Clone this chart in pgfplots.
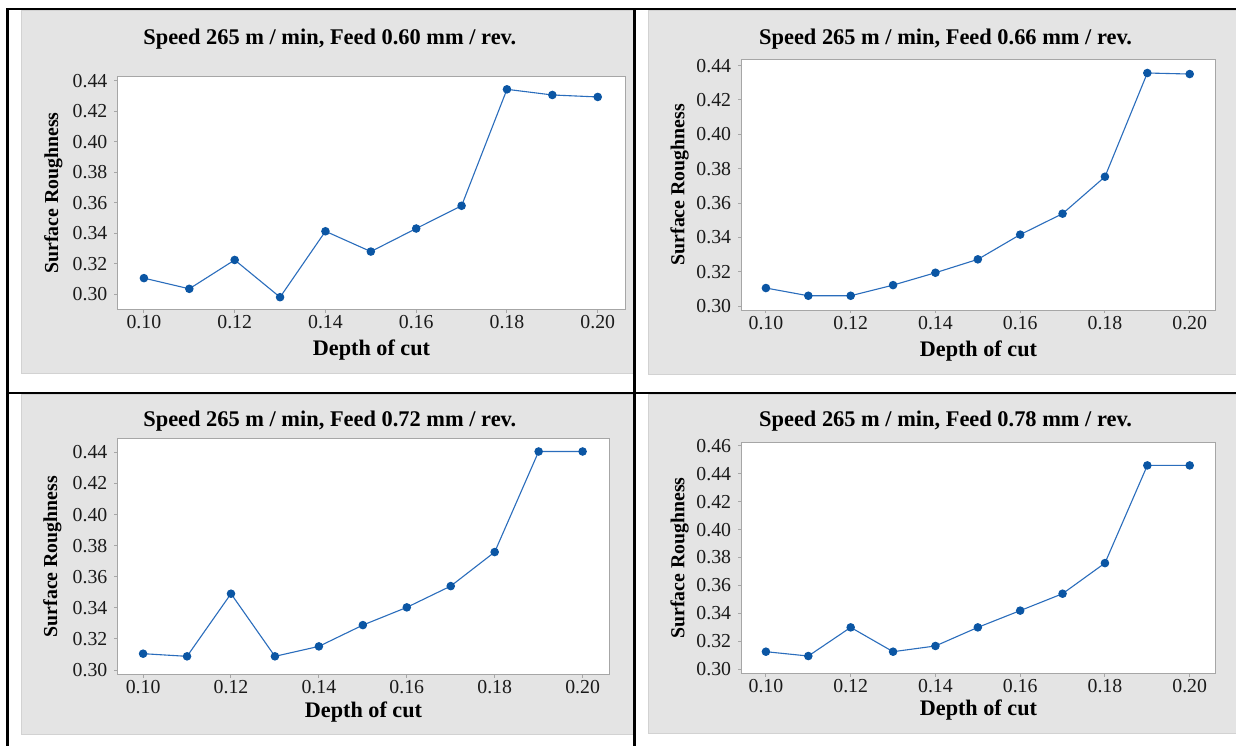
\documentclass[border=0pt]{standalone}
\usepackage{fontspec}
\setmainfont{Liberation Serif}
\usepackage{pgfplots}
\pgfplotsset{compat=1.18}
\definecolor{bg}{HTML}{E4E4E4}
\definecolor{bgedge}{HTML}{D2D2D2}
\definecolor{frame}{HTML}{A6A6A6}
\definecolor{ln}{HTML}{2A6DBC}
\definecolor{mk}{HTML}{0B56A4}
\definecolor{tickc}{HTML}{1A1A1A}
\pgfplotsset{
  panel/.style={
    scale only axis, anchor=south west,
    xmin=0.0942, xmax=0.2061,
    xtick={0.10,0.12,0.14,0.16,0.18,0.20},
    xticklabels={0.10,0.12,0.14,0.16,0.18,0.20},
    tick pos=left, tick align=outside,
    major tick length=1.6pt,
    axis line style={draw=frame, line width=0.5pt},
    tick style={draw=frame, line width=0.5pt},
    axis background/.style={fill=white},
    ticklabel style={font=\fontsize{9.9pt}{11pt}\selectfont, text=tickc},
    xticklabel style={anchor=base, yshift=-7.9pt},
    /pgf/number format/assume math mode=true,
    xlabel={Depth of cut}, ylabel={Surface Roughness},
    xlabel style={font=\fontsize{11.1pt}{13pt}\selectfont\bfseries, anchor=base},
    ylabel style={font=\fontsize{9.9pt}{12pt}\selectfont\bfseries, anchor=base},
  },
  ser/.style={color=ln, line width=0.55pt, mark=*, mark size=1.85pt,
    mark options={draw=mk, fill=mk}},
}
\begin{document}
\begin{tikzpicture}
\useasboundingbox (0,0) rectangle (618pt,-373pt);
% gray panels
\filldraw[fill=bg, draw=bgedge, line width=0.5pt] (10.5pt,-5pt) rectangle (316.5pt,-186.6pt);
\filldraw[fill=bg, draw=bgedge, line width=0.5pt] (324.25pt,-5pt) rectangle (619pt,-187.1pt);
\filldraw[fill=bg, draw=bgedge, line width=0.5pt] (10.5pt,-197pt) rectangle (316.5pt,-367pt);
\filldraw[fill=bg, draw=bgedge, line width=0.5pt] (324.25pt,-197pt) rectangle (619pt,-366.5pt);
% table lines
\draw[black, line width=1.25pt] (3.1pt,-4.6pt) -- (618pt,-4.6pt);
\draw[black, line width=1.25pt] (3.75pt,-4pt) -- (3.75pt,-373pt);
\draw[black, line width=1.25pt] (317.35pt,-4pt) -- (317.35pt,-373pt);
\draw[black, line width=1.25pt] (3.75pt,-196.5pt) -- (618pt,-196.5pt);
% titles
\node[anchor=base, font=\fontsize{11.2pt}{13pt}\selectfont\bfseries] at (164.9pt,-22pt) {Speed 265 m / min, Feed 0.60 mm / rev.};
\node[anchor=base, font=\fontsize{11.2pt}{13pt}\selectfont\bfseries] at (472.8pt,-22pt) {Speed 265 m / min, Feed 0.66 mm / rev.};
\node[anchor=base, font=\fontsize{11.2pt}{13pt}\selectfont\bfseries] at (164.9pt,-213.3pt) {Speed 265 m / min, Feed 0.72 mm / rev.};
\node[anchor=base, font=\fontsize{11.2pt}{13pt}\selectfont\bfseries] at (472.8pt,-213.3pt) {Speed 265 m / min, Feed 0.78 mm / rev.};

% Panel 1
\begin{axis}[panel, at={(58.8pt,-154.7pt)}, width=253.9pt, height=116.3pt,
  ymin=0.2902, ymax=0.4426,
  ytick={0.30,0.32,0.34,0.36,0.38,0.40,0.42,0.44},
  yticklabels={0.30,0.32,0.34,0.36,0.38,0.40,0.42,0.44},
  xlabel style={at={(axis description cs:0.5,-0.1983)}},
  ylabel style={at={(axis description cs:-0.1171,0.5)}}]
\addplot[ser] coordinates {(0.10,0.3107) (0.11,0.3037) (0.12,0.3226) (0.13,0.2982) (0.14,0.3414) (0.15,0.3281) (0.16,0.3432) (0.17,0.3581) (0.18,0.4344) (0.19,0.4307) (0.20,0.4294)};
\end{axis}

% Panel 2
\begin{axis}[panel, at={(370.67pt,-155pt)}, width=237.1pt, height=125.2pt,
  ymin=0.2977, ymax=0.4435,
  ytick={0.30,0.32,0.34,0.36,0.38,0.40,0.42,0.44},
  yticklabels={0.30,0.32,0.34,0.36,0.38,0.40,0.42,0.44},
  xlabel style={at={(axis description cs:0.5,-0.184)}},
  ylabel style={at={(axis description cs:-0.1203,0.5)}}]
\addplot[ser] coordinates {(0.10,0.3105) (0.11,0.3060) (0.12,0.3060) (0.13,0.3122) (0.14,0.3194) (0.15,0.3272) (0.16,0.3416) (0.17,0.3538) (0.18,0.3753) (0.19,0.4357) (0.20,0.4351)};
\end{axis}

% Panel 3
\begin{axis}[panel, at={(58.8pt,-337.17pt)}, width=245.9pt, height=117.8pt,
  ymin=0.2972, ymax=0.4488,
  ytick={0.30,0.32,0.34,0.36,0.38,0.40,0.42,0.44},
  yticklabels={0.30,0.32,0.34,0.36,0.38,0.40,0.42,0.44},
  xlabel style={at={(axis description cs:0.5,-0.1825)}},
  ylabel style={at={(axis description cs:-0.1228,0.5)}}]
\addplot[ser] coordinates {(0.10,0.3105) (0.11,0.3088) (0.12,0.3491) (0.13,0.3088) (0.14,0.3152) (0.15,0.3289) (0.16,0.3403) (0.17,0.3540) (0.18,0.3759) (0.19,0.4406) (0.20,0.4406)};
\end{axis}

% Panel 4
\begin{axis}[panel, at={(370.67pt,-336.67pt)}, width=237.1pt, height=115.5pt,
  ymin=0.2971, ymax=0.4624,
  ytick={0.30,0.32,0.34,0.36,0.38,0.40,0.42,0.44,0.46},
  yticklabels={0.30,0.32,0.34,0.36,0.38,0.40,0.42,0.44,0.46},
  xlabel style={at={(axis description cs:0.5,-0.1805)}},
  ylabel style={at={(axis description cs:-0.1203,0.5)}}]
\addplot[ser] coordinates {(0.10,0.3126) (0.11,0.3095) (0.12,0.3300) (0.13,0.3126) (0.14,0.3167) (0.15,0.3300) (0.16,0.3420) (0.17,0.3541) (0.18,0.3760) (0.19,0.4459) (0.20,0.4459)};
\end{axis}
\end{tikzpicture}
\end{document}
